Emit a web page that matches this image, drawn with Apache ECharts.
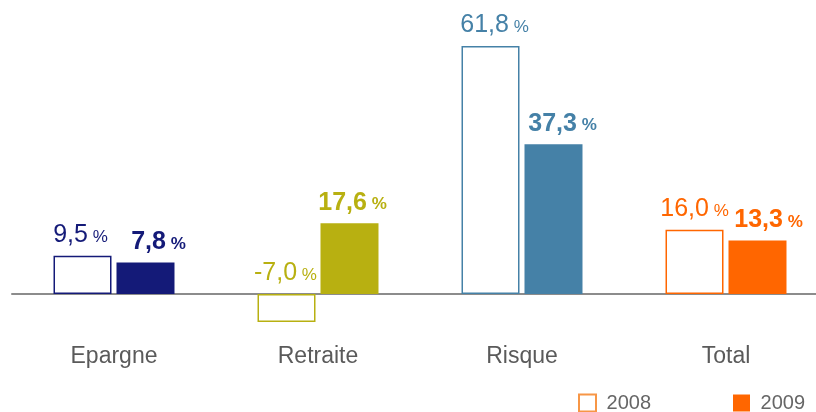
<!DOCTYPE html>
<html>
<head>
<meta charset="utf-8">
<script src="https://cdn.jsdelivr.net/npm/echarts@6/dist/echarts.min.js"></script>
<style>
  html, body { margin: 0; padding: 0; background: #fff; }
  #chart { width: 816px; height: 412px; }
</style>
</head>
<body>
<div id="chart"></div>
<script>
// Growth by business line, 2008 vs 2009 (%)
const categories = ['Epargne', 'Retraite', 'Risque', 'Total'];
const values2008 = [9.5, -7.0, 61.8, 16.0];
const values2009 = [7.8, 17.6, 37.3, 13.3];
const legendNames = ['2008', '2009'];

// One colour per business line
const lineColors = ['#141a78', '#b8b011', '#4581a7', '#ff6600'];
// Small horizontal nudges of the value labels
const labelShift2008 = [-2, -1, 4, 0];
const labelShift2009 = [13, 3, 9, 11];

const FONT = '"Liberation Sans", Arial, sans-serif';

function fmt(v) {
  return v.toFixed(1).replace('.', ',');
}

// Number in large type, percent sign smaller and sitting on the same baseline
function makeRich(color, bold) {
  const w = bold ? 'bold' : 'normal';
  return {
    n: { fontSize: 25, fontWeight: w, color: color, fontFamily: FONT, lineHeight: 26, verticalAlign: 'bottom' },
    p: { fontSize: 17, fontWeight: w, color: color, fontFamily: FONT, lineHeight: 26, verticalAlign: 'bottom', padding: [0, 0, 2, 0] }
  };
}

const data2008 = values2008.map((v, i) => ({
  value: v,
  itemStyle: { color: '#ffffff', borderColor: lineColors[i], borderWidth: 1.5 },
  label: { rich: makeRich(lineColors[i], false), offset: [labelShift2008[i], 0] }
}));

const data2009 = values2009.map((v, i) => ({
  value: v,
  itemStyle: { color: lineColors[i], borderWidth: 0 },
  label: { rich: makeRich(lineColors[i], true), offset: [labelShift2009[i], 0] }
}));

const labelFormatter = p => '{n|' + fmt(p.value) + '}{p| %}';

const chart = echarts.init(document.getElementById('chart'), null, { renderer: 'canvas' });

chart.setOption({
  animation: false,
  backgroundColor: '#ffffff',
  grid: { left: 12, width: 816, top: 13, bottom: 78, containLabel: false, outerBoundsMode: 'none' },
  legend: [
    {
      data: [legendNames[0]], left: 578, top: 393, padding: 0,
      itemWidth: 17, itemHeight: 17, icon: 'rect',
      formatter: n => ' ' + n,
      textStyle: { fontSize: 20, color: '#666666', fontFamily: FONT }
    },
    {
      data: [legendNames[1]], left: 733, top: 393, padding: 0,
      itemWidth: 17, itemHeight: 17, icon: 'rect',
      formatter: n => ' ' + n,
      textStyle: { fontSize: 20, color: '#666666', fontFamily: FONT }
    }
  ],
  xAxis: {
    type: 'category',
    data: categories,
    axisLine: { show: true, onZero: true, lineStyle: { color: '#8c8c8c', width: 2 } },
    axisTick: { show: false },
    axisLabel: { margin: 11, fontSize: 23, color: '#5a5a5a', fontFamily: FONT, interval: 0 },
    splitLine: { show: false }
  },
  yAxis: {
    type: 'value',
    min: -10,
    max: 70,
    show: false,
    splitLine: { show: false }
  },
  series: [
    {
      name: legendNames[0],
      type: 'bar',
      barWidth: 58,
      barGap: '8.6%',
      itemStyle: { color: '#ffffff', borderColor: '#f79646', borderWidth: 1.5 },
      label: { show: true, position: 'top', distance: 8, formatter: labelFormatter },
      data: data2008
    },
    {
      name: legendNames[1],
      type: 'bar',
      barWidth: 58,
      barGap: '8.6%',
      itemStyle: { color: '#ff6600' },
      label: { show: true, position: 'top', distance: 8, formatter: labelFormatter },
      data: data2009
    }
  ]
});
</script>
</body>
</html>
